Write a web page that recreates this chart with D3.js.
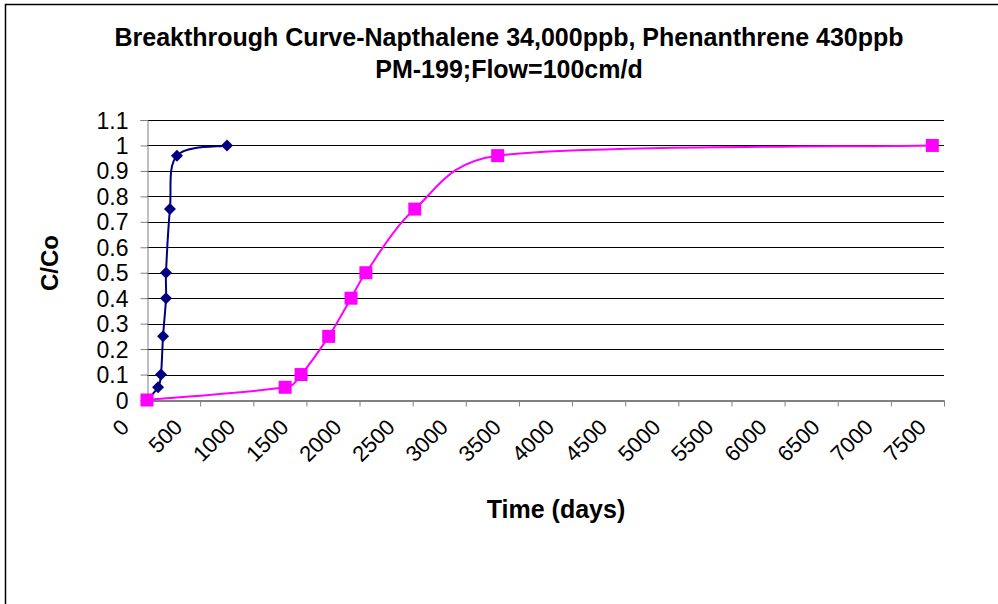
<!DOCTYPE html>
<html>
<head>
<meta charset="utf-8">
<script src="https://cdn.jsdelivr.net/npm/d3@7"></script>
<style>
  html, body { margin: 0; padding: 0; background: #fff; }
  svg { display: block; }
  text { font-family: "Liberation Sans", Arial, sans-serif; fill: #000; }
</style>
</head>
<body>
<svg id="chart" width="998" height="604"></svg>
<script>
// ---- data ----
const titleLines = ["Breakthrough Curve-Napthalene 34,000ppb, Phenanthrene 430ppb", "PM-199;Flow=100cm/d"];
const xTicks = [0, 500, 1000, 1500, 2000, 2500, 3000, 3500, 4000, 4500, 5000, 5500, 6000, 6500, 7000, 7500];
const yTicks = [0, 0.1, 0.2, 0.3, 0.4, 0.5, 0.6, 0.7, 0.8, 0.9, 1, 1.1];
const napX = [0, 104, 132, 151, 179, 179, 216, 282, 753];
const napY = [0, 0.05, 0.1, 0.25, 0.4, 0.5, 0.75, 0.96, 1.0];
const phenX = [0, 1300, 1450, 1710, 1920, 2060, 2520, 3300, 7390];
const phenY = [0, 0.05, 0.1, 0.25, 0.4, 0.5, 0.75, 0.96, 1.0];

const svg = d3.select("#chart");
const L = 147, R = 944, T = 120, B = 400;

const x = d3.scaleLinear().domain([0, 7500]).range([L, R]);
const y = d3.scaleLinear().domain([0, 1.1]).range([B, T]);

// Excel-style smoothed line (Bezier, tension 1/6, arms clamped to half segment)
function smoothPath(pts) {
  const p = pts.map(d => [x(d[0]), y(d[1])]);
  const n = p.length;
  const dist = (a, b) => Math.hypot(b[0] - a[0], b[1] - a[1]);
  const path = d3.path();
  path.moveTo(p[0][0], p[0][1]);
  for (let i = 0; i < n - 1; i++) {
    const p0 = p[Math.max(0, i - 1)], p1 = p[i], p2 = p[i + 1], p3 = p[Math.min(n - 1, i + 2)];
    const d12 = dist(p1, p2), d02 = dist(p0, p2), d13 = dist(p1, p3);
    let f1 = 1 / 6, f2 = 1 / 6;
    if (d02 / 6 >= d12 / 2 && d02 > 0) f1 = d12 / (2 * d02);
    if (d13 / 6 >= d12 / 2 && d13 > 0) f2 = d12 / (2 * d13);
    const c1 = [p1[0] + (p2[0] - p0[0]) * f1, p1[1] + (p2[1] - p0[1]) * f1];
    const c2 = [p2[0] - (p3[0] - p1[0]) * f2, p2[1] - (p3[1] - p1[1]) * f2];
    path.bezierCurveTo(c1[0], c1[1], c2[0], c2[1], p2[0], p2[1]);
  }
  return path.toString();
}

// outer frame
svg.append("rect").attr("x", 5.5).attr("y", 4.5).attr("width", 1000).attr("height", 610)
  .attr("fill", "#fff").attr("stroke", "#000").attr("stroke-width", 1.5);

// gridlines
svg.append("g").selectAll("line").data(yTicks.filter(d => d > 0)).join("line")
  .attr("x1", L).attr("x2", R)
  .attr("y1", d => Math.round(y(d)) + 0.5).attr("y2", d => Math.round(y(d)) + 0.5)
  .attr("stroke", "#000").attr("stroke-width", 1);

// y axis
const yAxis = svg.append("g").attr("transform", `translate(${L + 0.5},0)`)
  .call(d3.axisLeft(y).tickValues(yTicks).tickFormat(d3.format("")).tickSize(7).tickPadding(12));
yAxis.select(".domain").attr("stroke", "#808080");
yAxis.selectAll(".tick line").attr("stroke", "#808080");
yAxis.selectAll(".tick text").style("font-size", "23px").attr("dy", "0.35em")
  .style("font-family", "Liberation Sans, Arial, sans-serif");

// x axis
const xAxis = svg.append("g").attr("transform", `translate(0,${B + 0.5})`)
  .call(d3.axisBottom(x).tickValues(xTicks).tickFormat(d3.format("")).tickSize(6).tickSizeOuter(0));
xAxis.select(".domain").attr("stroke", "#000");
xAxis.selectAll(".tick line").attr("stroke", "#808080");
xAxis.selectAll(".tick text")
  .style("font-size", "22px").style("font-family", "Liberation Sans, Arial, sans-serif")
  .attr("text-anchor", "end")
  .attr("x", 0).attr("y", 0).attr("dy", 0)
  .attr("transform", "translate(-17,28) rotate(-45)");

const napPts = napX.map((v, i) => [v, napY[i]]);
const phenPts = phenX.map((v, i) => [v, phenY[i]]);

svg.append("path").attr("d", smoothPath(napPts)).attr("fill", "none")
  .attr("stroke", "#000080").attr("stroke-width", 2);
svg.append("g").selectAll("path").data(napPts).join("path")
  .attr("d", d3.symbol().type(d3.symbolSquare).size(72))
  .attr("transform", d => `translate(${x(d[0])},${y(d[1])}) rotate(45)`)
  .attr("fill", "#000080");

svg.append("path").attr("d", smoothPath(phenPts)).attr("fill", "none")
  .attr("stroke", "#FF00FF").attr("stroke-width", 2);
svg.append("g").selectAll("rect").data(phenPts).join("rect")
  .attr("x", d => x(d[0]) - 6.5).attr("y", d => y(d[1]) - 6.5)
  .attr("width", 13).attr("height", 13)
  .attr("fill", "#FF00FF");

// titles
svg.append("text").attr("x", 509).attr("y", 46).attr("text-anchor", "middle")
  .style("font-size", "25px").style("font-weight", "bold").text(titleLines[0]);
svg.append("text").attr("x", 509).attr("y", 78).attr("text-anchor", "middle")
  .style("font-size", "25px").style("font-weight", "bold").text(titleLines[1]);

// axis titles
svg.append("text").attr("x", 556).attr("y", 518).attr("text-anchor", "middle")
  .style("font-size", "25px").style("font-weight", "bold").text("Time (days)");
svg.append("text").attr("transform", "translate(58,263) rotate(-90)").attr("text-anchor", "middle")
  .style("font-size", "24px").style("font-weight", "bold").text("C/Co");
</script>
</body>
</html>
